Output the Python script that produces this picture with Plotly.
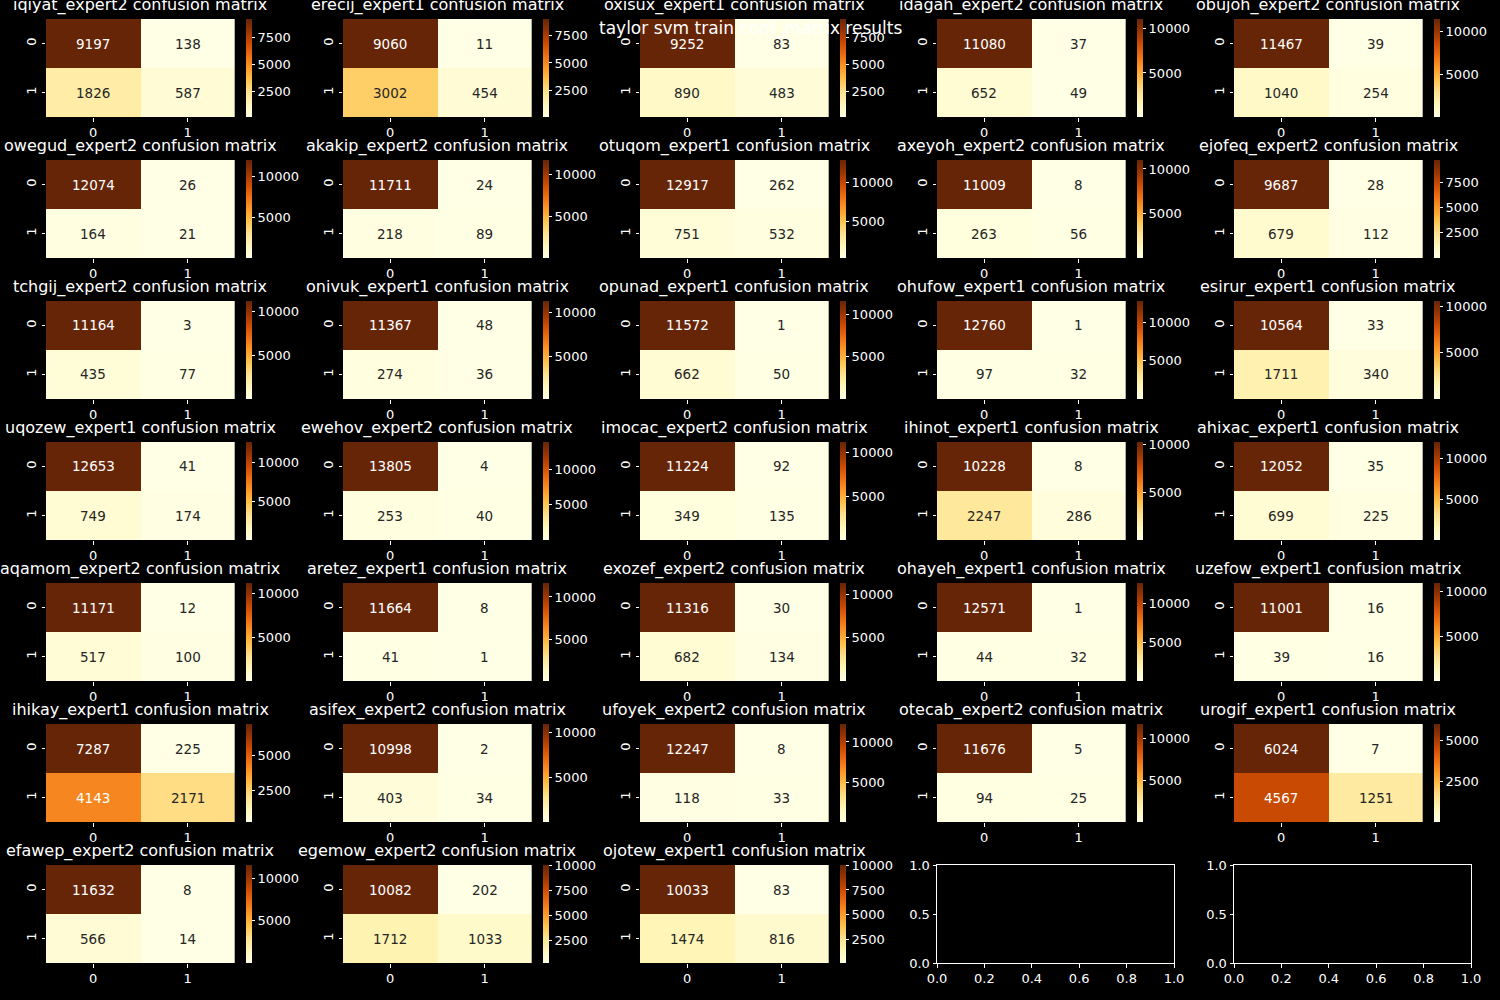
import plotly.graph_objects as go

# ---------------- data ----------------
panel_names = [
    "iqiyat_expert2", "erecij_expert1", "oxisux_expert1", "idagah_expert2", "obujoh_expert2",
    "owegud_expert2", "akakip_expert2", "otuqom_expert1", "axeyoh_expert2", "ejofeq_expert2",
    "tchgij_expert2", "onivuk_expert1", "opunad_expert1", "ohufow_expert1", "esirur_expert1",
    "uqozew_expert1", "ewehov_expert2", "imocac_expert2", "ihinot_expert1", "ahixac_expert1",
    "aqamom_expert2", "aretez_expert1", "exozef_expert2", "ohayeh_expert1", "uzefow_expert1",
    "ihikay_expert1", "asifex_expert2", "ufoyek_expert2", "otecab_expert2", "urogif_expert1",
    "efawep_expert2", "egemow_expert2", "ojotew_expert1",
]
true_neg = [9197, 9060, 9252, 11080, 11467,
            12074, 11711, 12917, 11009, 9687,
            11164, 11367, 11572, 12760, 10564,
            12653, 13805, 11224, 10228, 12052,
            11171, 11664, 11316, 12571, 11001,
            7287, 10998, 12247, 11676, 6024,
            11632, 10082, 10033]
false_pos = [138, 11, 83, 37, 39,
             26, 24, 262, 8, 28,
             3, 48, 1, 1, 33,
             41, 4, 92, 8, 35,
             12, 8, 30, 1, 16,
             225, 2, 8, 5, 7,
             8, 202, 83]
false_neg = [1826, 3002, 890, 652, 1040,
             164, 218, 751, 263, 679,
             435, 274, 662, 97, 1711,
             749, 253, 349, 2247, 699,
             517, 41, 682, 44, 39,
             4143, 403, 118, 94, 4567,
             566, 1712, 1474]
true_pos = [587, 454, 483, 49, 254,
            21, 89, 532, 56, 112,
            77, 36, 50, 32, 340,
            174, 40, 135, 286, 225,
            100, 1, 134, 32, 16,
            2171, 34, 33, 25, 1251,
            14, 1033, 816]
class_labels = ["0", "1"]
suptitle = "taylor svm train conf_matrix results"
empty_x_ticks = [0.0, 0.2, 0.4, 0.6, 0.8, 1.0]
empty_y_ticks = [0.0, 0.5, 1.0]

# ---------------- style / layout ----------------
W, H = 1500, 1000
FONT = "DejaVu Sans"
YLORBR = ['#ffffe5', '#fff7bc', '#fee391', '#fec44f', '#fe9929',
          '#ec7014', '#cc4c02', '#993404', '#662506']
COLORSCALE = [[i / (len(YLORBR) - 1), c] for i, c in enumerate(YLORBR)]
COL_LEFT = [46, 343, 640, 937, 1234]
ROW_TOP = [19, 160, 301, 442, 583, 724, 865]
HEAT_W = 188.7
HEAT_H = 98
AX_W = 237


def hex_rgb(h):
    h = h.lstrip('#')
    return [int(h[i:i + 2], 16) / 255 for i in (0, 2, 4)]


def cmap(t):
    t = min(max(t, 0.0), 1.0)
    n = len(YLORBR) - 1
    i = min(int(t * n), n - 1)
    f = t * n - i
    a, b = hex_rgb(YLORBR[i]), hex_rgb(YLORBR[i + 1])
    return [a[k] + (b[k] - a[k]) * f for k in range(3)]


def lum(rgb):
    out = []
    for c in rgb:
        out.append(c / 12.92 if c <= 0.03928 else ((c + 0.055) / 1.055) ** 2.4)
    return 0.2126 * out[0] + 0.7152 * out[1] + 0.0722 * out[2]


def px_x(x):
    return x / W


def px_y(y):
    return 1 - y / H


fig = go.Figure()
annotations = []
layout_axes = {}

for idx, name in enumerate(panel_names):
    r, c = divmod(idx, 5)
    n = idx + 1
    xa = "x" if n == 1 else f"x{n}"
    ya = "y" if n == 1 else f"y{n}"
    xkey = "xaxis" if n == 1 else f"xaxis{n}"
    ykey = "yaxis" if n == 1 else f"yaxis{n}"
    z = [[true_neg[idx], false_pos[idx]], [false_neg[idx], true_pos[idx]]]
    vals = [v for row in z for v in row]
    mn, mx = min(vals), max(vals)
    step = 2500 if (mx - mn) < 10000 else 5000
    ticks = [k * step for k in range(1, 10) if mn <= k * step <= mx]
    left = COL_LEFT[c]
    top = ROW_TOP[r]
    fig.add_trace(go.Heatmap(
        z=z, x=[0, 1], y=[0, 1], xaxis=xa, yaxis=ya,
        colorscale=COLORSCALE, zmin=mn, zmax=mx, hoverinfo="skip",
        colorbar=dict(
            x=px_x(left + HEAT_W + 11), xanchor="left",
            y=px_y(top + HEAT_H / 2), yanchor="middle",
            len=HEAT_H / H, lenmode="fraction",
            thickness=5.5, thicknessmode="pixels",
            outlinewidth=0, xpad=0, ypad=0,
            tickvals=ticks, tickformat="d",
            ticks="outside", ticklen=3.5, tickwidth=1, tickcolor="white",
            tickfont=dict(family=FONT, size=13, color="white"),
        ),
    ))
    layout_axes[xkey] = dict(
        domain=[px_x(left), px_x(left + HEAT_W)], anchor=ya,
        range=[-0.5, 1.5], tickvals=[0, 1], ticktext=class_labels,
        ticks="outside", ticklen=3.5, tickwidth=1, tickcolor="white",
        showgrid=False, zeroline=False, showline=False, automargin=False,
        tickfont=dict(family=FONT, size=13, color="white"),
    )
    layout_axes[ykey] = dict(
        domain=[px_y(top + HEAT_H), px_y(top)], anchor=xa,
        range=[1.5, -0.5], tickvals=[0, 1], ticktext=class_labels,
        tickangle=-90,
        ticks="outside", ticklen=3.5, tickwidth=1, tickcolor="white",
        showgrid=False, zeroline=False, showline=False, automargin=False,
        tickfont=dict(family=FONT, size=13, color="white"),
    )
    for i in range(2):
        for j in range(2):
            v = z[i][j]
            t = (v - mn) / (mx - mn) if mx > mn else 0
            col = "#262626" if lum(cmap(t)) > 0.408 else "white"
            annotations.append(dict(
                x=j, y=i, xref=xa, yref=ya, text=str(v), showarrow=False,
                font=dict(family=FONT, size=13.5, color=col),
            ))
    annotations.append(dict(
        x=px_x(left + HEAT_W / 2), y=px_y(top - 14), xref="paper", yref="paper",
        text=f"{name} confusion matrix", showarrow=False,
        xanchor="center", yanchor="middle",
        font=dict(family=FONT, size=16, color="white"),
    ))

# empty axes (positions 34, 35)
for k, c in enumerate([3, 4]):
    n = len(panel_names) + 1 + k
    xkey, ykey = f"xaxis{n}", f"yaxis{n}"
    left = COL_LEFT[c]
    top = ROW_TOP[6]
    common = dict(showgrid=False, zeroline=False, showline=True, mirror=True,
                  linecolor="white", linewidth=1, ticks="outside", ticklen=3.5,
                  tickwidth=1, tickcolor="white", tickformat=".1f", automargin=False,
                  tickfont=dict(family=FONT, size=13, color="white"))
    layout_axes[xkey] = dict(domain=[px_x(left), px_x(left + AX_W)], anchor=f"y{n}",
                             range=[0, 1], tickvals=empty_x_ticks, **common)
    layout_axes[ykey] = dict(domain=[px_y(top + HEAT_H), px_y(top)], anchor=f"x{n}",
                             range=[0, 1], tickvals=empty_y_ticks, **common)
    fig.add_trace(go.Scatter(x=[], y=[], xaxis=f"x{n}", yaxis=f"y{n}",
                             showlegend=False, hoverinfo="skip"))

annotations.append(dict(
    x=0.5, y=px_y(28), xref="paper", yref="paper", text=suptitle,
    showarrow=False, xanchor="center", yanchor="middle",
    font=dict(family=FONT, size=17, color="white"),
))

fig.update_layout(
    width=W, height=H, margin=dict(l=0, r=0, t=0, b=0, autoexpand=False),
    paper_bgcolor="black", plot_bgcolor="black",
    showlegend=False, annotations=annotations,
    font=dict(family=FONT, color="white"),
    **layout_axes,
)

fig.write_html("out.html")
